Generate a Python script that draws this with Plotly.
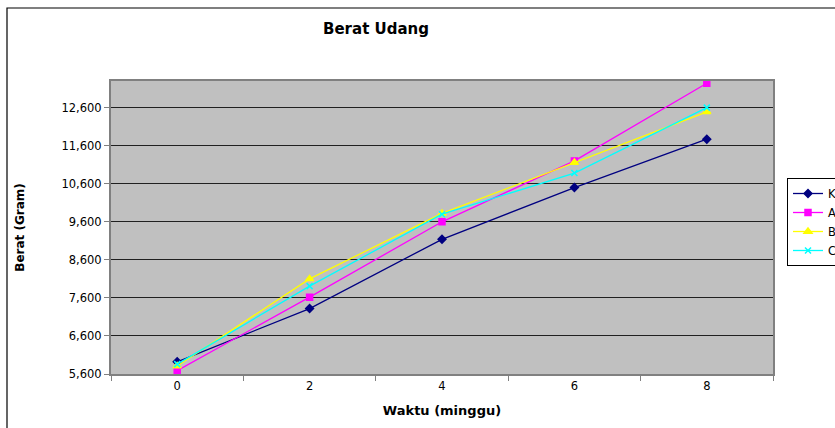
import plotly.graph_objects as go

# minggu (weeks)
waktu = ["0", "2", "4", "6", "8"]

# berat udang per perlakuan
kontrol = [5920, 7320, 9140, 10500, 11770]
perlakuan_a = [5690, 7620, 9600, 11200, 13240]
perlakuan_b = [5810, 8100, 9820, 11160, 12490]
perlakuan_c = [5860, 7910, 9800, 10880, 12600]

y_ticks = [5600, 6600, 7600, 8600, 9600, 10600, 11600, 12600]

series = [
    ("Kontrol", kontrol, "#000080", "diamond", 6),
    ("A", perlakuan_a, "#ff00ff", "square", 6),
    ("B", perlakuan_b, "#ffff00", "triangle-up", 7),
    ("C", perlakuan_c, "#00ffff", "x-thin", 6),
]

fig = go.Figure()
for name, vals, color, sym, size in series:
    fig.add_trace(go.Scatter(
        x=waktu, y=vals, name=name, mode="lines+markers",
        line=dict(color=color, width=1.3),
        marker=dict(symbol=sym, size=size, color=color,
                    line=dict(color=color, width=1.5)),
    ))

L, R, T, B = 111, 62, 81, 54
W, H = 835, 428
pw, ph = W - L - R, H - T - B

# outer chart frame
fig.add_shape(type="rect", xref="paper", yref="paper",
              x0=(7 - L) / pw, x1=1 + (R + 20) / pw,
              y0=-(B + 20) / ph, y1=1 + (T - 8) / ph,
              line=dict(color="black", width=1.2), layer="below")

fig.update_layout(
    width=W, height=H,
    margin=dict(l=L, r=R, t=T, b=B, autoexpand=False),
    paper_bgcolor="white",
    plot_bgcolor="#c0c0c0",
    font=dict(family="DejaVu Sans", size=11.5, color="black"),
    title=dict(text="<b>Berat Udang</b>", x=376 / W, xanchor="center",
               y=1 - 29 / H, yanchor="middle", font=dict(size=15)),
    showlegend=True,
    legend=dict(x=(787 - L) / pw, xanchor="left",
                y=1 - (178 - T) / ph, yanchor="top",
                bgcolor="white", bordercolor="black", borderwidth=1,
                font=dict(size=11.5), tracegroupgap=0),
)

fig.update_xaxes(
    type="category", tickson="boundaries",
    ticks="outside", ticklen=5, tickcolor="#808080",
    showline=True, linecolor="#808080", linewidth=2, mirror=True,
    showgrid=False, range=[-0.5, 4.5],
    title=dict(text="<b>Waktu (minggu)</b>", font=dict(size=13), standoff=14),
)
fig.update_yaxes(
    range=[5600, 13300], tickvals=y_ticks, tickformat=",d",
    ticks="outside", ticklen=5, tickcolor="#808080",
    showline=True, linecolor="#808080", linewidth=2, mirror=True,
    showgrid=True, gridcolor="#202020", gridwidth=1.2,
    zeroline=False,
    title=dict(text="<b>Berat (Gram)</b>", font=dict(size=12), standoff=34),
)

# drop the page's default body margin so the figure sits at the window origin
fig.write_html("out.html", config={"displayModeBar": False},
               post_script="document.body.style.margin='0';")
